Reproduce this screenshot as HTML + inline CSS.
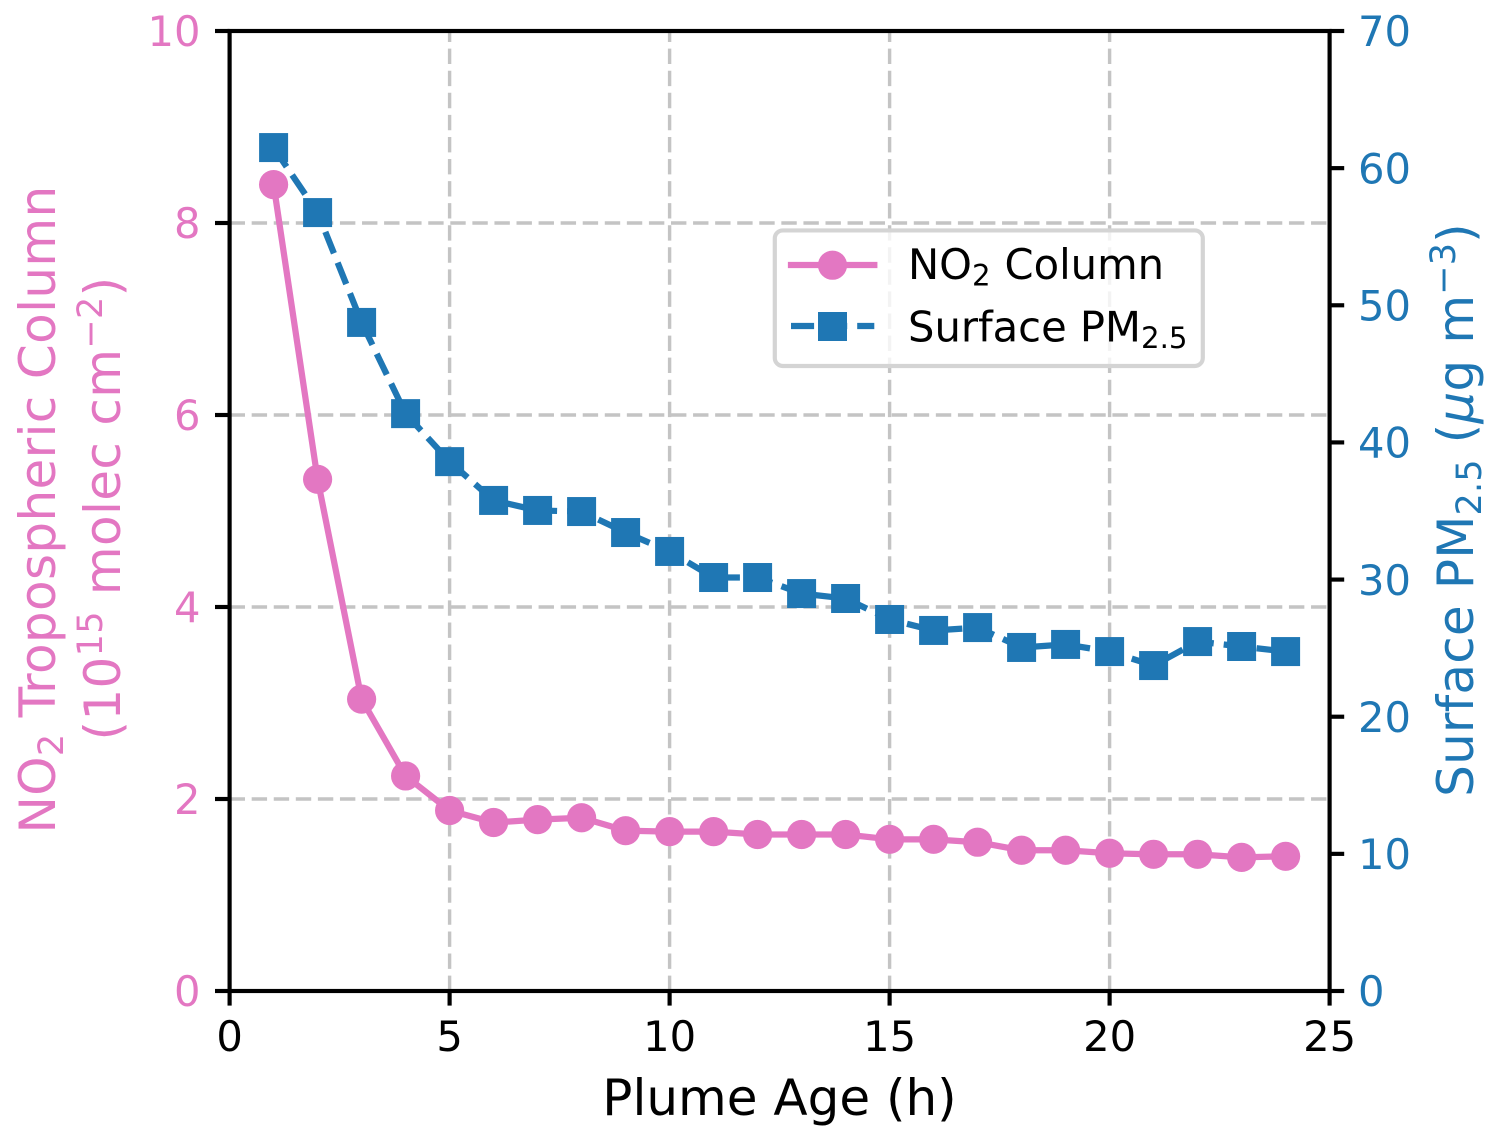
<!DOCTYPE html>
<html>
<head>
<meta charset="utf-8">
<title>Plume Age Chart</title>
<style>
html,body{margin:0;padding:0;background:#fff;}
svg{display:block;}
text{font-family:"DejaVu Sans",sans-serif;}
</style>
</head>
<body>
<svg id="chart" xmlns="http://www.w3.org/2000/svg" width="1498" height="1140" viewBox="0 0 1498 1140">
<rect x="0" y="0" width="1498" height="1140" fill="#fff"/>
<g id="grid"></g>
<g id="series"></g>
<g id="legend">
<rect x="774.8" y="230.4" width="428" height="135.6" rx="8" ry="8" fill="#fff" fill-opacity="0.8" stroke="#d4d4d4" stroke-width="4.17"/>
<g>
<line x1="791" y1="265" x2="874.3" y2="265" stroke="#e377c2" stroke-width="6.25" stroke-linecap="square"/>
<circle cx="832.5" cy="265.2" r="14.6" fill="#e377c2"/>
<text x="908" y="279" font-size="41.67" fill="#000">NO<tspan font-size="29.2" dy="6.5">2</tspan><tspan dy="-6.5" dx="14">Column</tspan></text>
</g>
<g>
<line x1="791" y1="326" x2="874.3" y2="326" stroke="#1f77b4" stroke-width="6.25" stroke-dasharray="23.1 10"/>
<rect x="818" y="312" width="29" height="29" fill="#1f77b4"/>
<text x="908" y="341.5" font-size="41.67" fill="#000">Surface PM<tspan font-size="29.2" dy="6.5">2.5</tspan></text>
</g>
</g>
<g id="axes"></g>
<g id="ticks"></g>
<text x="779.5" y="1115" font-size="50" text-anchor="middle" fill="#000">Plume Age (h)</text>
<text transform="translate(55,509.5) rotate(-90)" font-size="50" text-anchor="middle" letter-spacing="0.36" fill="#e377c2">NO<tspan font-size="35" dy="8">2</tspan><tspan dy="-8" dx="16">Tropospheric Column</tspan></text>
<text transform="translate(120,508.5) rotate(-90)" font-size="50" text-anchor="middle" letter-spacing="0.36" fill="#e377c2">(10<tspan font-size="35" dy="-18">15</tspan><tspan dy="18" dx="16">molec cm</tspan><tspan font-size="35" dy="-18">−2</tspan><tspan dy="18">)</tspan></text>
<text transform="translate(1473,510) rotate(-90)" font-size="50" text-anchor="middle" letter-spacing="0.17" fill="#1f77b4">Surface PM<tspan font-size="35" dy="8">2.5</tspan><tspan dy="-8" dx="16">(</tspan><tspan font-style="italic">μ</tspan><tspan>g m</tspan><tspan font-size="35" dy="-18">−3</tspan><tspan dy="18">)</tspan></text>
</svg>
<script>
const plumeAgeHours = [1,2,3,4,5,6,7,8,9,10,11,12,13,14,15,16,17,18,19,20,21,22,23,24];
const no2Column = [8.40,5.33,3.04,2.24,1.88,1.755,1.785,1.805,1.67,1.66,1.66,1.63,1.63,1.63,1.58,1.58,1.55,1.466,1.466,1.435,1.424,1.424,1.392,1.403];
const surfacePm25 = [61.5,56.76,48.75,42.1,38.6,35.77,35.04,34.96,33.43,32.05,30.15,30.15,28.98,28.62,27.09,26.29,26.5,25.05,25.27,24.75,23.73,25.48,25.12,24.75];
const xTickValues = [0,5,10,15,20,25];
const leftTickValues = [0,2,4,6,8,10];
const rightTickValues = [0,10,20,30,40,50,60,70];

const NS = 'http://www.w3.org/2000/svg';
const plot = {left:229.6, right:1329.6, top:31, bottom:991};
const xMax = 25, leftMax = 10, rightMax = 70;
function xScale(v){ return plot.left + v / xMax * (plot.right - plot.left); }
function yLeft(v){ return plot.bottom - v / leftMax * (plot.bottom - plot.top); }
function yRight(v){ return plot.bottom - v / rightMax * (plot.bottom - plot.top); }
function make(tag, parent, attrs){
  const el = document.createElementNS(NS, tag);
  for (const k in attrs) el.setAttribute(k, attrs[k]);
  parent.appendChild(el);
  return el;
}

const grid = document.getElementById('grid');
const series = document.getElementById('series');
const axes = document.getElementById('axes');
const ticks = document.getElementById('ticks');
const gridStyle = {stroke:'#c4c4c4', 'stroke-width':3.4, 'stroke-dasharray':'15.4 6.67', fill:'none'};

xTickValues.forEach(function(v){
  const g = make('line', grid, Object.assign({x1:xScale(v), y1:plot.bottom, x2:xScale(v), y2:plot.top}, gridStyle));
  
  
  const t = make('line', axes, {x1:xScale(v), y1:plot.bottom, x2:xScale(v), y2:plot.bottom + 14.6, stroke:'#000', 'stroke-width':4.17});
  
  
  const l = make('text', ticks, {x:xScale(v), y:1051, 'font-size':41.67, 'text-anchor':'middle', fill:'#000'});
  l.textContent = String(v);
  
  
});
leftTickValues.forEach(function(v){
  const g = make('line', grid, Object.assign({x1:plot.left, y1:yLeft(v), x2:plot.right, y2:yLeft(v)}, gridStyle));
  
  
  const t = make('line', axes, {x1:plot.left, y1:yLeft(v), x2:plot.left - 14.6, y2:yLeft(v), stroke:'#000', 'stroke-width':4.17});
  
  
  const l = make('text', ticks, {x:200.5, y:yLeft(v) + 15.2, 'font-size':41.67, 'text-anchor':'end', fill:'#e377c2'});
  l.textContent = String(v);
  
  
});
rightTickValues.forEach(function(v){
  const t = make('line', axes, {x1:plot.right, y1:yRight(v), x2:plot.right + 14.6, y2:yRight(v), stroke:'#000', 'stroke-width':4.17});
  
  
  const l = make('text', ticks, {x:1358, y:yRight(v) + 15.2, 'font-size':41.67, 'text-anchor':'start', fill:'#1f77b4'});
  l.textContent = String(v);
  
  
});

const frame = make('rect', axes, {x:plot.left, y:plot.top, width:plot.right - plot.left, height:plot.bottom - plot.top, fill:'none', stroke:'#000', 'stroke-width':4.17, 'stroke-linecap':'square'});



const no2Points = plumeAgeHours.map(function(h, i){ return xScale(h) + ',' + yLeft(no2Column[i]); }).join(' ');
const no2Line = make('polyline', series, {points:no2Points, fill:'none', stroke:'#e377c2', 'stroke-width':6.25, 'stroke-linejoin':'round'});


plumeAgeHours.forEach(function(h, i){
  const c = make('circle', series, {cx:xScale(h), cy:yLeft(no2Column[i]), r:14.6, fill:'#e377c2'});
  
  
});

const pmPoints = plumeAgeHours.map(function(h, i){ return xScale(h) + ',' + yRight(surfacePm25[i]); }).join(' ');
const pmLine = make('polyline', series, {points:pmPoints, fill:'none', stroke:'#1f77b4', 'stroke-width':6.25, 'stroke-dasharray':'23.1 10', 'stroke-linejoin':'round'});


plumeAgeHours.forEach(function(h, i){
  const s = make('rect', series, {x:xScale(h) - 14.5, y:yRight(surfacePm25[i]) - 14.5, width:29, height:29, fill:'#1f77b4'});
  
  
});
</script>
</body>
</html>
